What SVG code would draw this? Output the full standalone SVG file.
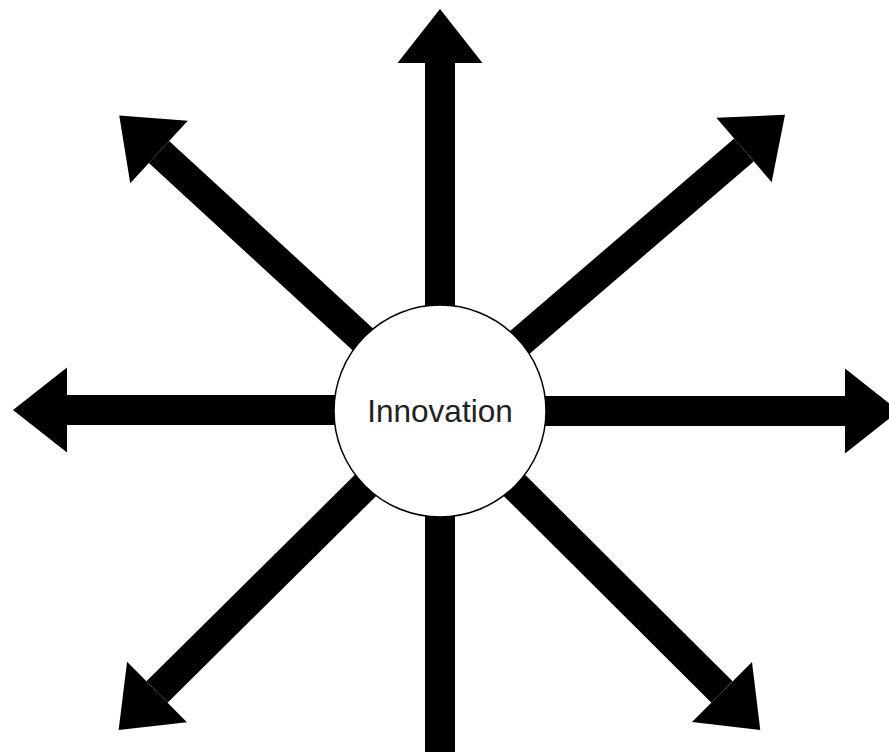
<svg xmlns="http://www.w3.org/2000/svg" width="889" height="752" viewBox="0 0 889 752">
  <style>
    .arrow { stroke: #000; stroke-width: 30; fill: none; marker-end: url(#head); }
    .shaft { stroke: #000; stroke-width: 30; fill: none; }
    .node { fill: #fff; stroke: #000; stroke-width: 1.5; }
    .label { font-family: "Liberation Sans", Arial, sans-serif; font-size: 31.5px; fill: #222; }
  </style>
  <defs>
    <marker id="head" markerUnits="userSpaceOnUse" markerWidth="56" markerHeight="90" refX="0" refY="45" orient="auto" overflow="visible">
      <path d="M0,2.5 L54,45 L0,87.5 Z" fill="#000"/>
    </marker>
  </defs>
  <rect width="889" height="752" fill="#fff"/>
  <g id="connectors">
    <line class="arrow" x1="440" y1="320" x2="440" y2="63"/>
    <line class="shaft" x1="440" y1="500" x2="440" y2="760"/>
    <line class="arrow" x1="350" y1="410" x2="67" y2="410"/>
    <line class="arrow" x1="530" y1="411" x2="845" y2="411"/>
    <line class="arrow" x1="370" y1="346" x2="159" y2="152"/>
    <line class="arrow" x1="512" y1="349" x2="744" y2="150"/>
    <line class="arrow" x1="372" y1="479" x2="157" y2="692"/>
    <line class="arrow" x1="508" y1="479" x2="722" y2="692"/>
  </g>
  <g id="innovation">
    <circle class="node" cx="440" cy="411" r="106"/>
    <text class="label" x="440" y="422" text-anchor="middle">Innovation</text>
  </g>
</svg>
